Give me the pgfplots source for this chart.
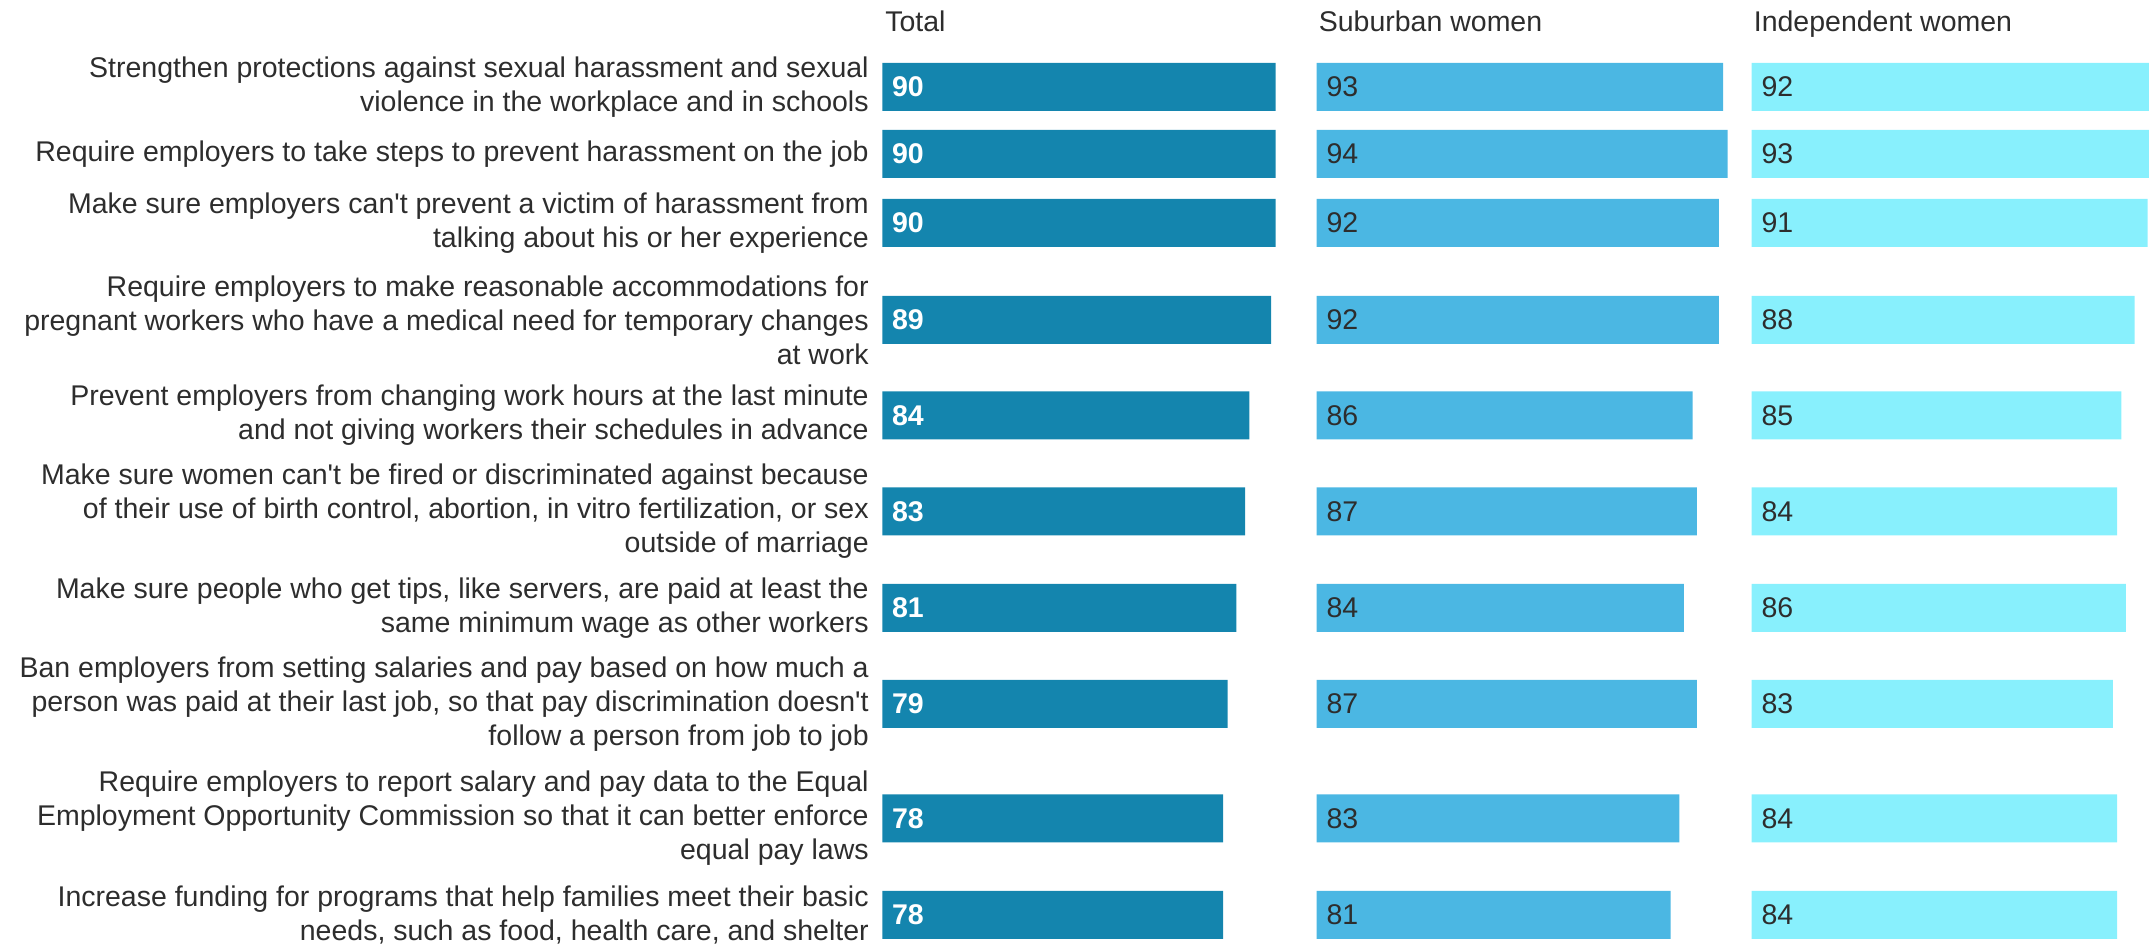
\documentclass[border=0pt]{standalone}
\usepackage{fontspec}
\setmainfont{Liberation Sans}
\usepackage{pgfplots}
\pgfplotsset{compat=1.18}
\usepackage{pgfplotstable}

\definecolor{cTot}{RGB}{20,133,174}
\definecolor{cSub}{RGB}{75,183,227}
\definecolor{cInd}{RGB}{136,240,253}
\definecolor{cLab}{RGB}{45,45,45}

\pgfplotstableread{
y tot sub ind
87 90 93 92
154 90 94 93
223 90 92 91
320 89 92 88
415.5 84 86 85
511.5 83 87 84
608 81 84 86
704 79 87 83
818.5 78 83 84
915 78 81 84
}\data

\newcommand{\lf}{\fontsize{14.25}{17}\selectfont}
\newcommand{\ap}{\textquotesingle}

\pgfplotsset{
  panel/.style={
    scale only axis,
    height=472.5pt,
    ymin=0, ymax=945,
    y dir=reverse,
    xmin=0,
    axis line style={draw=none},
    xtick=\empty,
    ytick=\empty,
    major tick length=0pt,
    bar width=48,
    anchor=south west,
    clip=true,
    /pgf/number format/assume math mode=true,
  },
  vals/.style={
    draw=none, mark=none,
    nodes near coords,
    point meta=explicit,
    every node near coord/.append style={anchor=west, xshift=4.7pt, font=\lf, inner sep=0pt},
  },
}

\begin{document}
\begin{tikzpicture}
\useasboundingbox (0,0) rectangle (1074.5pt,472.5pt);

% Total
\begin{axis}[panel,
  at={(441.15pt,0pt)}, width=217.2pt, xmax=99.4,
  ytick={87,154,223,320,415.5,511.5,608,704,818.5,915},
  yticklabels={
    {Strengthen protections against sexual harassment and sexual\\violence in the workplace and in schools},
    {Require employers to take steps to prevent harassment on the job},
    {Make sure employers can\ap t prevent a victim of harassment from\\talking about his or her experience},
    {Require employers to make reasonable accommodations for\\pregnant workers who have a medical need for temporary changes\\at work},
    {Prevent employers from changing work hours at the last minute\\and not giving workers their schedules in advance},
    {Make sure women can\ap t be fired or discriminated against because\\of their use of birth control, abortion, in vitro fertilization, or sex\\outside of marriage},
    {Make sure people who get tips, like servers, are paid at least the\\same minimum wage as other workers},
    {Ban employers from setting salaries and pay based on how much a\\person was paid at their last job, so that pay discrimination doesn\ap t\\follow a person from job to job},
    {Require employers to report salary and pay data to the Equal\\Employment Opportunity Commission so that it can better enforce\\equal pay laws},
    {Increase funding for programs that help families meet their basic\\needs, such as food, health care, and shelter}
  },
  yticklabel style={anchor=east, align=right, inner sep=0pt, xshift=-6.6pt, font=\lf, text=cLab},
]
\addplot[xbar, fill=cTot, draw=none] table[x=tot, y=y] {\data};
\addplot[vals, every node near coord/.append style={text=white, font=\lf\bfseries}] table[x expr=0, y=y, meta=tot] {\data};
\node[anchor=base west, inner sep=0pt, font=\lf, text=cLab] at (axis cs:0.6,32) {Total};
\end{axis}

% Suburban women
\begin{axis}[panel,
  at={(658.35pt,0pt)}, width=217.2pt, xmax=99.4,
]
\addplot[xbar, fill=cSub, draw=none] table[x=sub, y=y] {\data};
\addplot[vals, every node near coord/.append style={text=cLab}] table[x expr=0, y=y, meta=sub] {\data};
\node[anchor=base west, inner sep=0pt, font=\lf, text=cLab] at (axis cs:0.4,32) {Suburban women};
\end{axis}

% Independent women
\begin{axis}[panel,
  at={(875.85pt,0pt)}, width=198.65pt, xmax=91.33,
]
\addplot[xbar, fill=cInd, draw=none] table[x=ind, y=y] {\data};
\addplot[vals, every node near coord/.append style={text=cLab}] table[x expr=0, y=y, meta=ind] {\data};
\node[anchor=base west, inner sep=0pt, font=\lf, text=cLab] at (axis cs:0.4,32) {Independent women};
\end{axis}
\end{tikzpicture}
\end{document}
